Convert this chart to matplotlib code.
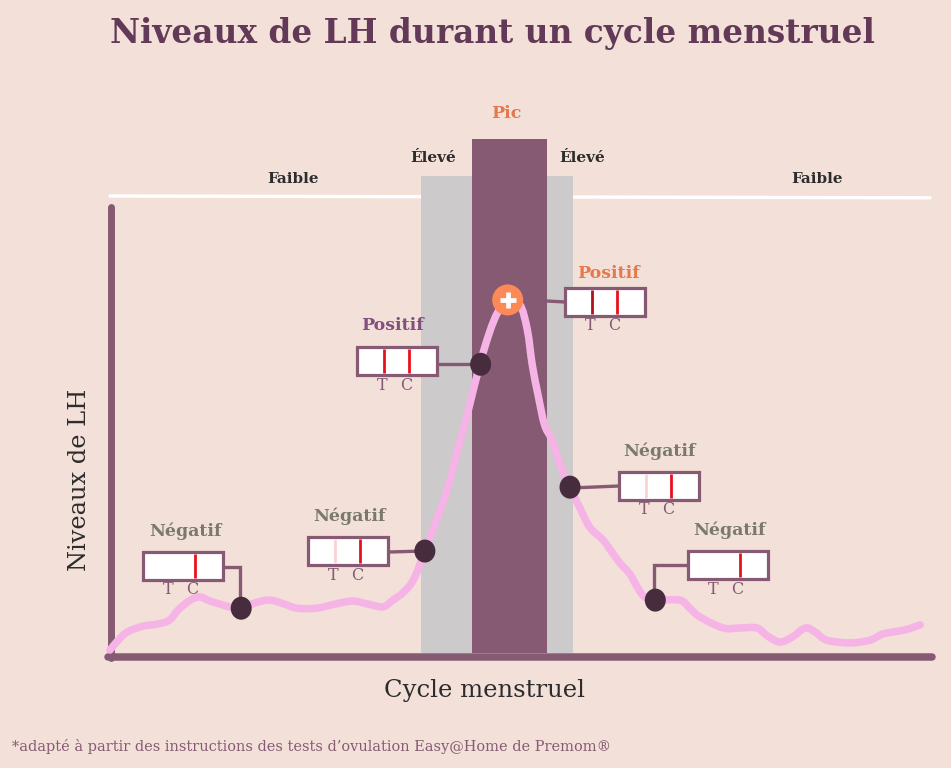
import matplotlib
matplotlib.use("Agg")
import matplotlib.pyplot as plt
from matplotlib.patches import Rectangle, Ellipse, PathPatch
from matplotlib.path import Path

# Data: cycle position (% of the axis) and LH level (% of the axis)
cycle = [0, 1.0, 2.1, 4.0, 5.9, 7.3, 8.3, 9.8, 11, 12.2, 14.6, 16, 17.7, 19.5, 21.3, 22.8,
         25.2, 27.4, 29.6, 31.5, 33.3, 34.5, 35.7, 37, 38.4, 39.6, 41.1, 42.4, 43.7, 45.1,
         46.3, 47.3, 48.5, 50, 50.9, 51.5, 52.2, 53, 53.9, 54.9, 56.1, 57.3, 58.5, 60.1,
         61.2, 62.2, 63.4, 64.3, 65.2, 66.5, 69.5, 70.7, 72, 74.8, 76.8, 78.9, 80.2, 81.7,
         83.2, 84.8, 86, 87.4, 90.2, 92.7, 94.3, 97, 98.8]
lh = [1.1, 3.3, 5.1, 6.4, 6.9, 7.8, 10, 12.2, 12.9, 12, 10.7, 10.4, 11.6, 12.2, 11.3, 10.4,
      10.4, 11.3, 12, 11.3, 10.7, 12.2, 13.8, 16.7, 23.1, 28.9, 36.7, 45.6, 54.4, 64.6,
      71.8, 76.2, 78.9, 77.8, 72.2, 64.4, 57.8, 51.1, 47.8, 42.2, 37.3, 32.7, 28.4, 25.6,
      22.9, 20.4, 18, 15.1, 12.9, 12.2, 12.2, 10.4, 8.4, 6, 6, 6, 4.2, 2.9,
      4, 6, 5.1, 3.3, 2.7, 3.3, 4.7, 5.6, 6.7]
high_band = (37.9, 56.5)
peak_band = (44.1, 53.3)
high_top = 106.4
peak_top = 114.7
test_cycle = [16, 38.4, 45.2, 56.1, 66.5]
test_lh = [10.4, 23.1, 64.6, 37.3, 12.2]
peak_point = (48.5, 78.9)

title = "Niveaux de LH durant un cycle menstruel"
footnote = "*adapté à partir des instructions des tests d’ovulation Easy@Home de Premom®"
phases = ["Faible", "Élevé", "Pic", "Élevé", "Faible"]
results = ["Négatif", "Négatif", "Positif", "Positif", "Négatif", "Négatif"]
t_shade = ["none", "#f9d3d6", "#e8101c", "#b3101c", "#f9d3d6", "none"]

BG, AXC, GRAY, PINK, DOT, ORANGE = "#f3e0d9", "#855a72", "#cccaca", "#f5b3e6", "#472c3d", "#fd8a56"
SERIF = "DejaVu Serif"
W, H = 951, 768

fig = plt.figure(figsize=(W / 100, H / 100), dpi=100, facecolor=BG)

# Overlay in figure pixels for annotations
ov = fig.add_axes([0, 0, 1, 1], zorder=3)
ov.set_xlim(0, W); ov.set_ylim(H, 0); ov.axis("off")

# Main chart axes
ax = fig.add_axes([110 / W, (H - 655) / H, 820 / W, 450 / H], zorder=2)
ax.set_xlim(0, 100); ax.set_ylim(0, 100)
ax.patch.set_alpha(0)
ax.set_xticks([]); ax.set_yticks([])
for s in ax.spines.values():
    s.set_visible(False)

# White phase line behind bands
ax.plot([0, 100], [102.0, 101.6], color="white", lw=2.4, clip_on=False, zorder=1, solid_capstyle="round")
ax.add_patch(Rectangle((high_band[0], 0.4), high_band[1] - high_band[0], high_top - 0.4,
                       fc=GRAY, ec="none", clip_on=False, zorder=2))
ax.add_patch(Rectangle((peak_band[0], 0.4), peak_band[1] - peak_band[0], peak_top - 0.4,
                       fc=AXC, ec="none", clip_on=False, zorder=3))
# axes lines
ax.plot([0.1, 0.1], [-0.6, 99.6], color=AXC, lw=5.0, clip_on=False, zorder=4, solid_capstyle="round")
ax.plot([-0.3, 100.3], [-0.5, -0.5], color=AXC, lw=5.4, clip_on=False, zorder=4, solid_capstyle="round")


def smooth_path(xs, ys):
    """Bezier path through the given points (Catmull-Rom control points)."""
    verts = [(xs[0], ys[0])]
    codes = [Path.MOVETO]
    n = len(xs)
    for i in range(n - 1):
        x0, y0 = (xs[i - 1], ys[i - 1]) if i > 0 else (xs[i], ys[i])
        x3, y3 = (xs[i + 2], ys[i + 2]) if i + 2 < n else (xs[i + 1], ys[i + 1])
        verts += [(xs[i] + (xs[i + 1] - x0) / 6, ys[i] + (ys[i + 1] - y0) / 6),
                  (xs[i + 1] - (x3 - xs[i]) / 6, ys[i + 1] - (y3 - ys[i]) / 6),
                  (xs[i + 1], ys[i + 1])]
        codes += [Path.CURVE4] * 3
    return Path(verts, codes)


ax.add_patch(PathPatch(smooth_path(cycle, lh), fc="none", ec=PINK, lw=5.4, clip_on=False,
                       zorder=5, capstyle="round", joinstyle="round"))

# Texts
ov.text(492, 33, title, color="#623a58", fontsize=23.6, fontweight="bold", family=SERIF, ha="center", va="center")
ov.text(484, 690, "Cycle menstruel", color="#2c2c2c", fontsize=17.5, family=SERIF, ha="center", va="center")
ov.text(79, 480, "Niveaux de LH", color="#2c2c2c", fontsize=17.4, family=SERIF, rotation=90, ha="center", va="center")
ov.text(12, 746, footnote, color="#855a72", fontsize=10.45, family=SERIF, ha="left", va="center")
phase_pos = [(293, 179), (433, 158), (506, 114), (582, 158), (817, 179)]
phase_col = ["#2c2c2c", "#2c2c2c", "#e5794d", "#2c2c2c", "#2c2c2c"]
phase_fs = [10.9, 11, 12.5, 11, 10.9]
for t, (x, y), c, fs in zip(phases, phase_pos, phase_col, phase_fs):
    ov.text(x, y, t, color=c, fontsize=fs, fontweight="bold", family=SERIF, ha="center", va="center")

# Test strips
boxes = [(143, 552), (308, 537), (357, 347), (565, 288), (619, 472), (688, 551)]
res_col = ["#7a7a6c", "#7a7a6c", "#824f7e", "#e5794d", "#7a7a6c", "#7a7a6c"]
res_xy = [(185, 531), (350, 516), (392, 326), (608, 274), (660, 451), (730, 530)]
for (bx, by), r, rc, rxy, ts in zip(boxes, results, res_col, res_xy, t_shade):
    rect = Rectangle((bx, by), 80, 28, fc="white", ec=AXC, lw=2.3, zorder=4)
    ov.add_patch(rect)
    if ts != "none":
        ov.plot([bx + 27, bx + 27], [by + 2, by + 26], color=ts, lw=2, zorder=5, solid_capstyle="butt")
    ov.plot([bx + 52, bx + 52], [by + 2, by + 26], color="#e8101c", lw=2, zorder=5, solid_capstyle="butt")
    ov.text(bx + 25, by + 38, "T", color=AXC, fontsize=11.5, family=SERIF, ha="center", va="center", zorder=5)
    ov.text(bx + 49, by + 38, "C", color=AXC, fontsize=11.5, family=SERIF, ha="center", va="center", zorder=5)
    ov.text(rxy[0], rxy[1], r, color=rc, fontsize=12.5, fontweight="bold", family=SERIF, ha="center", va="center")

# Connectors
conns = [[(224, 567), (240, 567), (240, 608)],
         [(389, 552), (425, 551)],
         [(438, 364), (481, 364)],
         [(565, 302), (547, 301)],
         [(619, 486), (571, 488)],
         [(688, 565), (654, 565), (654, 600)]]
for c in conns:
    ov.plot([p[0] for p in c], [p[1] for p in c], color=AXC, lw=2.4, zorder=3, solid_joinstyle="miter")

# Markers, placed through the data scales
for cx, ly in zip(test_cycle, test_lh):
    px, py = ov.transData.inverted().transform(ax.transData.transform((cx, ly)))
    ov.add_patch(Ellipse((px, py), 21, 23, fc=DOT, ec="none", zorder=6))
px, py = ov.transData.inverted().transform(ax.transData.transform(peak_point))
ov.add_patch(Ellipse((px, py), 31, 31, fc=ORANGE, ec="none", zorder=6))
ov.plot([px - 8, px + 8], [py, py], color="white", lw=3.4, zorder=7, solid_capstyle="butt")
ov.plot([px, px], [py - 8, py + 8], color="white", lw=3.4, zorder=7, solid_capstyle="butt")

fig.savefig("out.png", dpi=100, facecolor=BG)
